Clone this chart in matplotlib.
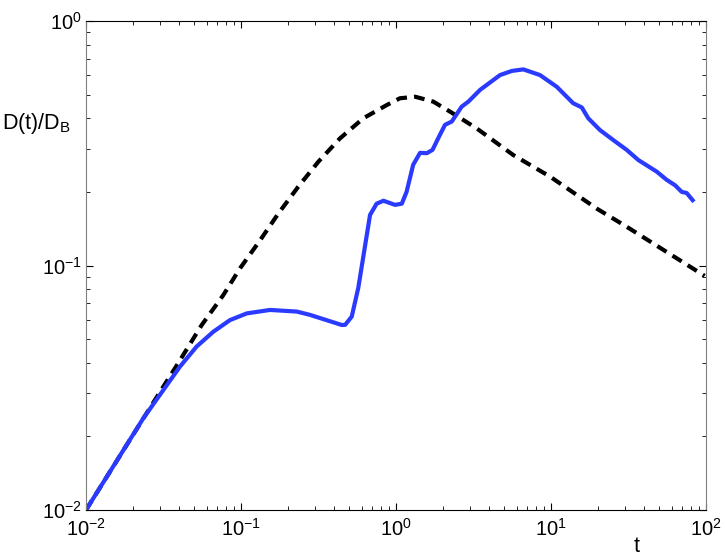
import matplotlib
matplotlib.use('Agg')
import matplotlib.pyplot as plt
import numpy as np

plt.rcParams['font.family'] = ['Liberation Sans', 'DejaVu Sans']
plt.rcParams['mathtext.fontset'] = 'custom'
plt.rcParams['mathtext.rm'] = 'Liberation Sans'
plt.rcParams['mathtext.default'] = 'regular'

# dashed reference curve
t_ref = [0.01, 0.0259, 0.0385, 0.0557, 0.0769, 0.0986, 0.133, 0.174, 0.234, 0.316,
         0.435, 0.615, 0.871, 1.06, 1.33, 1.74, 2.23, 3.31, 5.71, 9.86, 19.7, 30.8,
         82.8, 98]
d_ref = [0.01, 0.0262, 0.0390, 0.0570, 0.0757, 0.0974, 0.127, 0.163, 0.210, 0.266,
         0.331, 0.400, 0.453, 0.483, 0.490, 0.468, 0.426, 0.364, 0.283, 0.231, 0.171, 0.144,
         0.097, 0.0907]

# blue simulated curve
t_sim = [0.01, 0.0234, 0.0316, 0.0404, 0.0517, 0.0663, 0.0849, 0.109, 0.154, 0.229,
         0.279, 0.447, 0.47, 0.518, 0.571, 0.631, 0.68, 0.75, 0.83, 0.986, 1.09, 1.17,
         1.29, 1.43, 1.58, 1.72, 1.87, 2.07, 2.29, 2.65, 2.93, 3.49, 4.69, 5.6, 6.63,
         8.49, 10.9, 13.9, 15.8, 17.4, 20.7, 25.2, 30.8, 36.6, 48.1, 55.8, 63.1, 69.7,
         75, 82]
d_sim = [0.01, 0.0237, 0.031, 0.0386, 0.0466, 0.0536, 0.0598, 0.0637, 0.0658, 0.0648,
         0.0628, 0.0571, 0.0572, 0.0618, 0.0810, 0.120, 0.161, 0.179, 0.184, 0.177, 0.179,
         0.200, 0.258, 0.289, 0.288, 0.297, 0.331, 0.376, 0.388, 0.446, 0.468, 0.523,
         0.601, 0.625, 0.634, 0.601, 0.538, 0.461, 0.443, 0.400, 0.358, 0.326, 0.297,
         0.270, 0.242, 0.224, 0.213, 0.200, 0.198, 0.185]

W, H = 725, 557
fig = plt.figure(figsize=(W / 100, H / 100), dpi=100)
ax = fig.add_axes([86 / W, 1 - 510 / H, 620 / W, 489 / H])

ax.plot(t_ref, d_ref, color='black', linewidth=3, linestyle=(0, (2.6, 1.7)))
ax.plot(t_sim, d_sim, color='#2a3bff', linewidth=3, solid_joinstyle='round')

ax.set_xscale('log')
ax.set_yscale('log')
ax.set_xlim(1e-2, 1e2)
ax.set_ylim(1e-2, 1e0)
ax.set_xticks([1e-2, 1e-1, 1e0, 1e1, 1e2])
ax.set_yticks([1e-2, 1e-1, 1e0])

ax.tick_params(which='both', direction='in', top=True, right=True, labelsize=14.5)
ax.tick_params(which='major', length=5, width=0.8)
ax.tick_params(which='minor', length=3, width=0.6)
ax.tick_params(axis='x', pad=6)
ax.tick_params(axis='y', pad=3)

ax.spines['left'].set_color('#808080')
ax.spines['right'].set_color('#808080')

fig.text(2 / W, 1 - 129 / H, 'D(t)/D$_B$', fontsize=15.5, ha='left', va='baseline')
fig.text(637 / W, 1 - 552 / H, 't', fontsize=15.5, ha='center', va='baseline')

fig.savefig('out.png', dpi=100)
